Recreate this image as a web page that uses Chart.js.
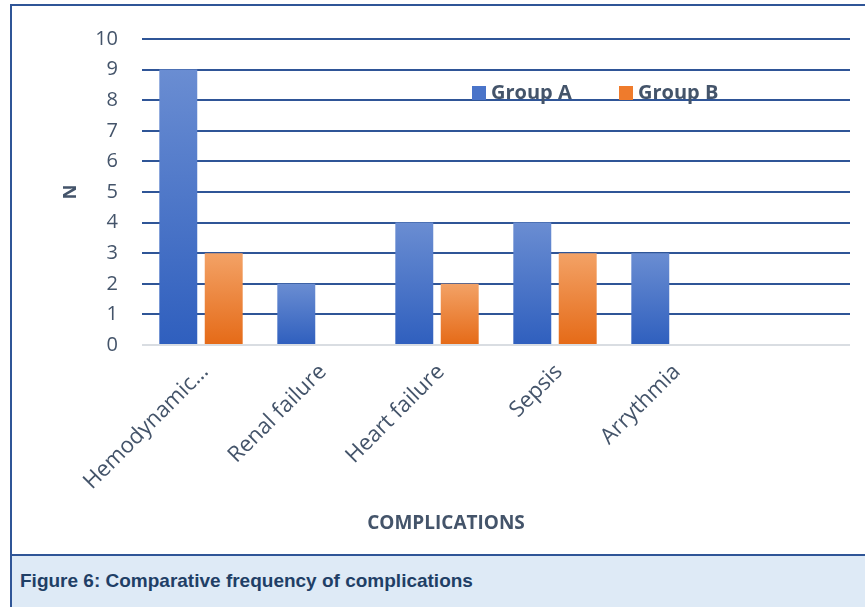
<!DOCTYPE html>
<html>
<head>
<meta charset="utf-8">
<title>Complications</title>
<script src="https://cdn.jsdelivr.net/npm/chart.js@4.4.1/dist/chart.umd.min.js"></script>
<style>
  html, body { margin: 0; padding: 0; background: #fff; }
  #wrap { position: relative; width: 865px; height: 607px; overflow: hidden; }
  #frame {
    position: absolute; left: 10px; top: 4px; width: 900px; height: 700px;
    border: 2px solid #2F5597; box-sizing: border-box;
  }
  #chartBox { position: absolute; left: 0; top: 0; width: 865px; height: 555px; }
  #xTitle {
    position: absolute; top: 509px; left: 446px; transform: translateX(-50%);
    font: bold 19px "Open Sans", sans-serif; color: #44546A; white-space: nowrap;
  }
  #caption {
    position: absolute; left: 12px; top: 554px; width: 900px; height: 60px;
    background: #DEEAF6; border-top: 2px solid #2F5597;
  }
  #caption span {
    position: absolute; left: 8px; top: 14px;
    font: bold 19px "Liberation Sans", Arial, sans-serif; color: #1F3F66;
  }
</style>
</head>
<body>
<div id="wrap">
  <div id="frame"></div>
  <div id="chartBox"><canvas id="chartCanvas"></canvas></div>
  <div id="xTitle">COMPLICATIONS</div>
  <div id="caption"><span>Figure 6: Comparative frequency of complications</span></div>
</div>
<script>
const categories = ["Hemodynamic…", "Renal failure", "Heart failure", "Sepsis", "Arrythmia", ""];
const groupA = [9, 2, 4, 4, 3, null];
const groupB = [3, 0, 2, 3, 0, null];
const seriesNames = ["Group A", "Group B"];

const textColor = "#44546A";
const gridColor = "#2F5597";

// light-at-top gradient per bar, like the office "gradient fill"
function barGradient(top, bottom) {
  return (c) => {
    const chart = c.chart;
    const y = chart.scales.y;
    if (!y || c.raw == null) return bottom;
    const y0 = y.getPixelForValue(0);
    const y1 = y.getPixelForValue(c.raw);
    if (!(y0 > y1)) return bottom;
    const g = chart.ctx.createLinearGradient(0, y1, 0, y0);
    g.addColorStop(0, top);
    g.addColorStop(1, bottom);
    return g;
  };
}

// legend sits inside the plot, near the top right
const innerLegend = {
  id: "innerLegend",
  afterDatasetsDraw(chart) {
    const ctx = chart.ctx;
    const xs = [472, 619];
    const y = 93;
    ctx.save();
    ctx.font = 'bold 20px "Open Sans"';
    ctx.textBaseline = "middle";
    chart.data.datasets.forEach((ds, i) => {
      ctx.fillStyle = ds.legendColor;
      ctx.fillRect(xs[i], y - 7, 14, 14);
      ctx.fillStyle = textColor;
      ctx.fillText(ds.label, xs[i] + 19, y);
    });
    ctx.restore();
  }
};

const ctx = document.getElementById("chartCanvas").getContext("2d");
const chart = new Chart(ctx, {
  type: "bar",
  data: {
    labels: categories,
    datasets: [
      {
        label: seriesNames[0],
        data: groupA,
        backgroundColor: barGradient("#6A8DD2", "#2F5FBE"),
        legendColor: "#4A74C9",
        categoryPercentage: 0.77,
        barPercentage: 0.835
      },
      {
        label: seriesNames[1],
        data: groupB,
        backgroundColor: barGradient("#F3A266", "#E56A17"),
        legendColor: "#EF7B2C",
        categoryPercentage: 0.77,
        barPercentage: 0.835
      }
    ]
  },
  options: {
    responsive: true,
    maintainAspectRatio: false,
    animation: false,
    layout: { padding: { top: 39, right: 15, left: 0, bottom: 0 } },
    plugins: {
      legend: { display: false },
      tooltip: { enabled: false }
    },
    scales: {
      x: {
        grid: { display: false },
        border: { display: false },
        ticks: {
          autoSkip: false,
          minRotation: 45,
          maxRotation: 45,
          padding: 6,
          labelOffset: 4,
          color: textColor,
          font: { family: "Open Sans", size: 22 }
        },
        afterFit(scale) { scale.height = 210; }
      },
      y: {
        min: 0,
        max: 10,
        border: { display: false },
        grid: {
          drawTicks: false,
          lineWidth: 2,
          color: (c) => (c.tick && c.tick.value === 0 ? "#D9DDE2" : gridColor)
        },
        ticks: {
          stepSize: 1,
          padding: 24,
          color: textColor,
          font: { family: "Open Sans", size: 20 }
        },
        title: {
          display: true,
          text: "N",
          color: textColor,
          font: { family: "Open Sans", size: 18, weight: "bold" },
          padding: { top: 60, bottom: 0 }
        },
        afterFit(scale) { scale.width = 142; }
      }
    }
  },
  plugins: [innerLegend]
});
</script>
</body>
</html>
